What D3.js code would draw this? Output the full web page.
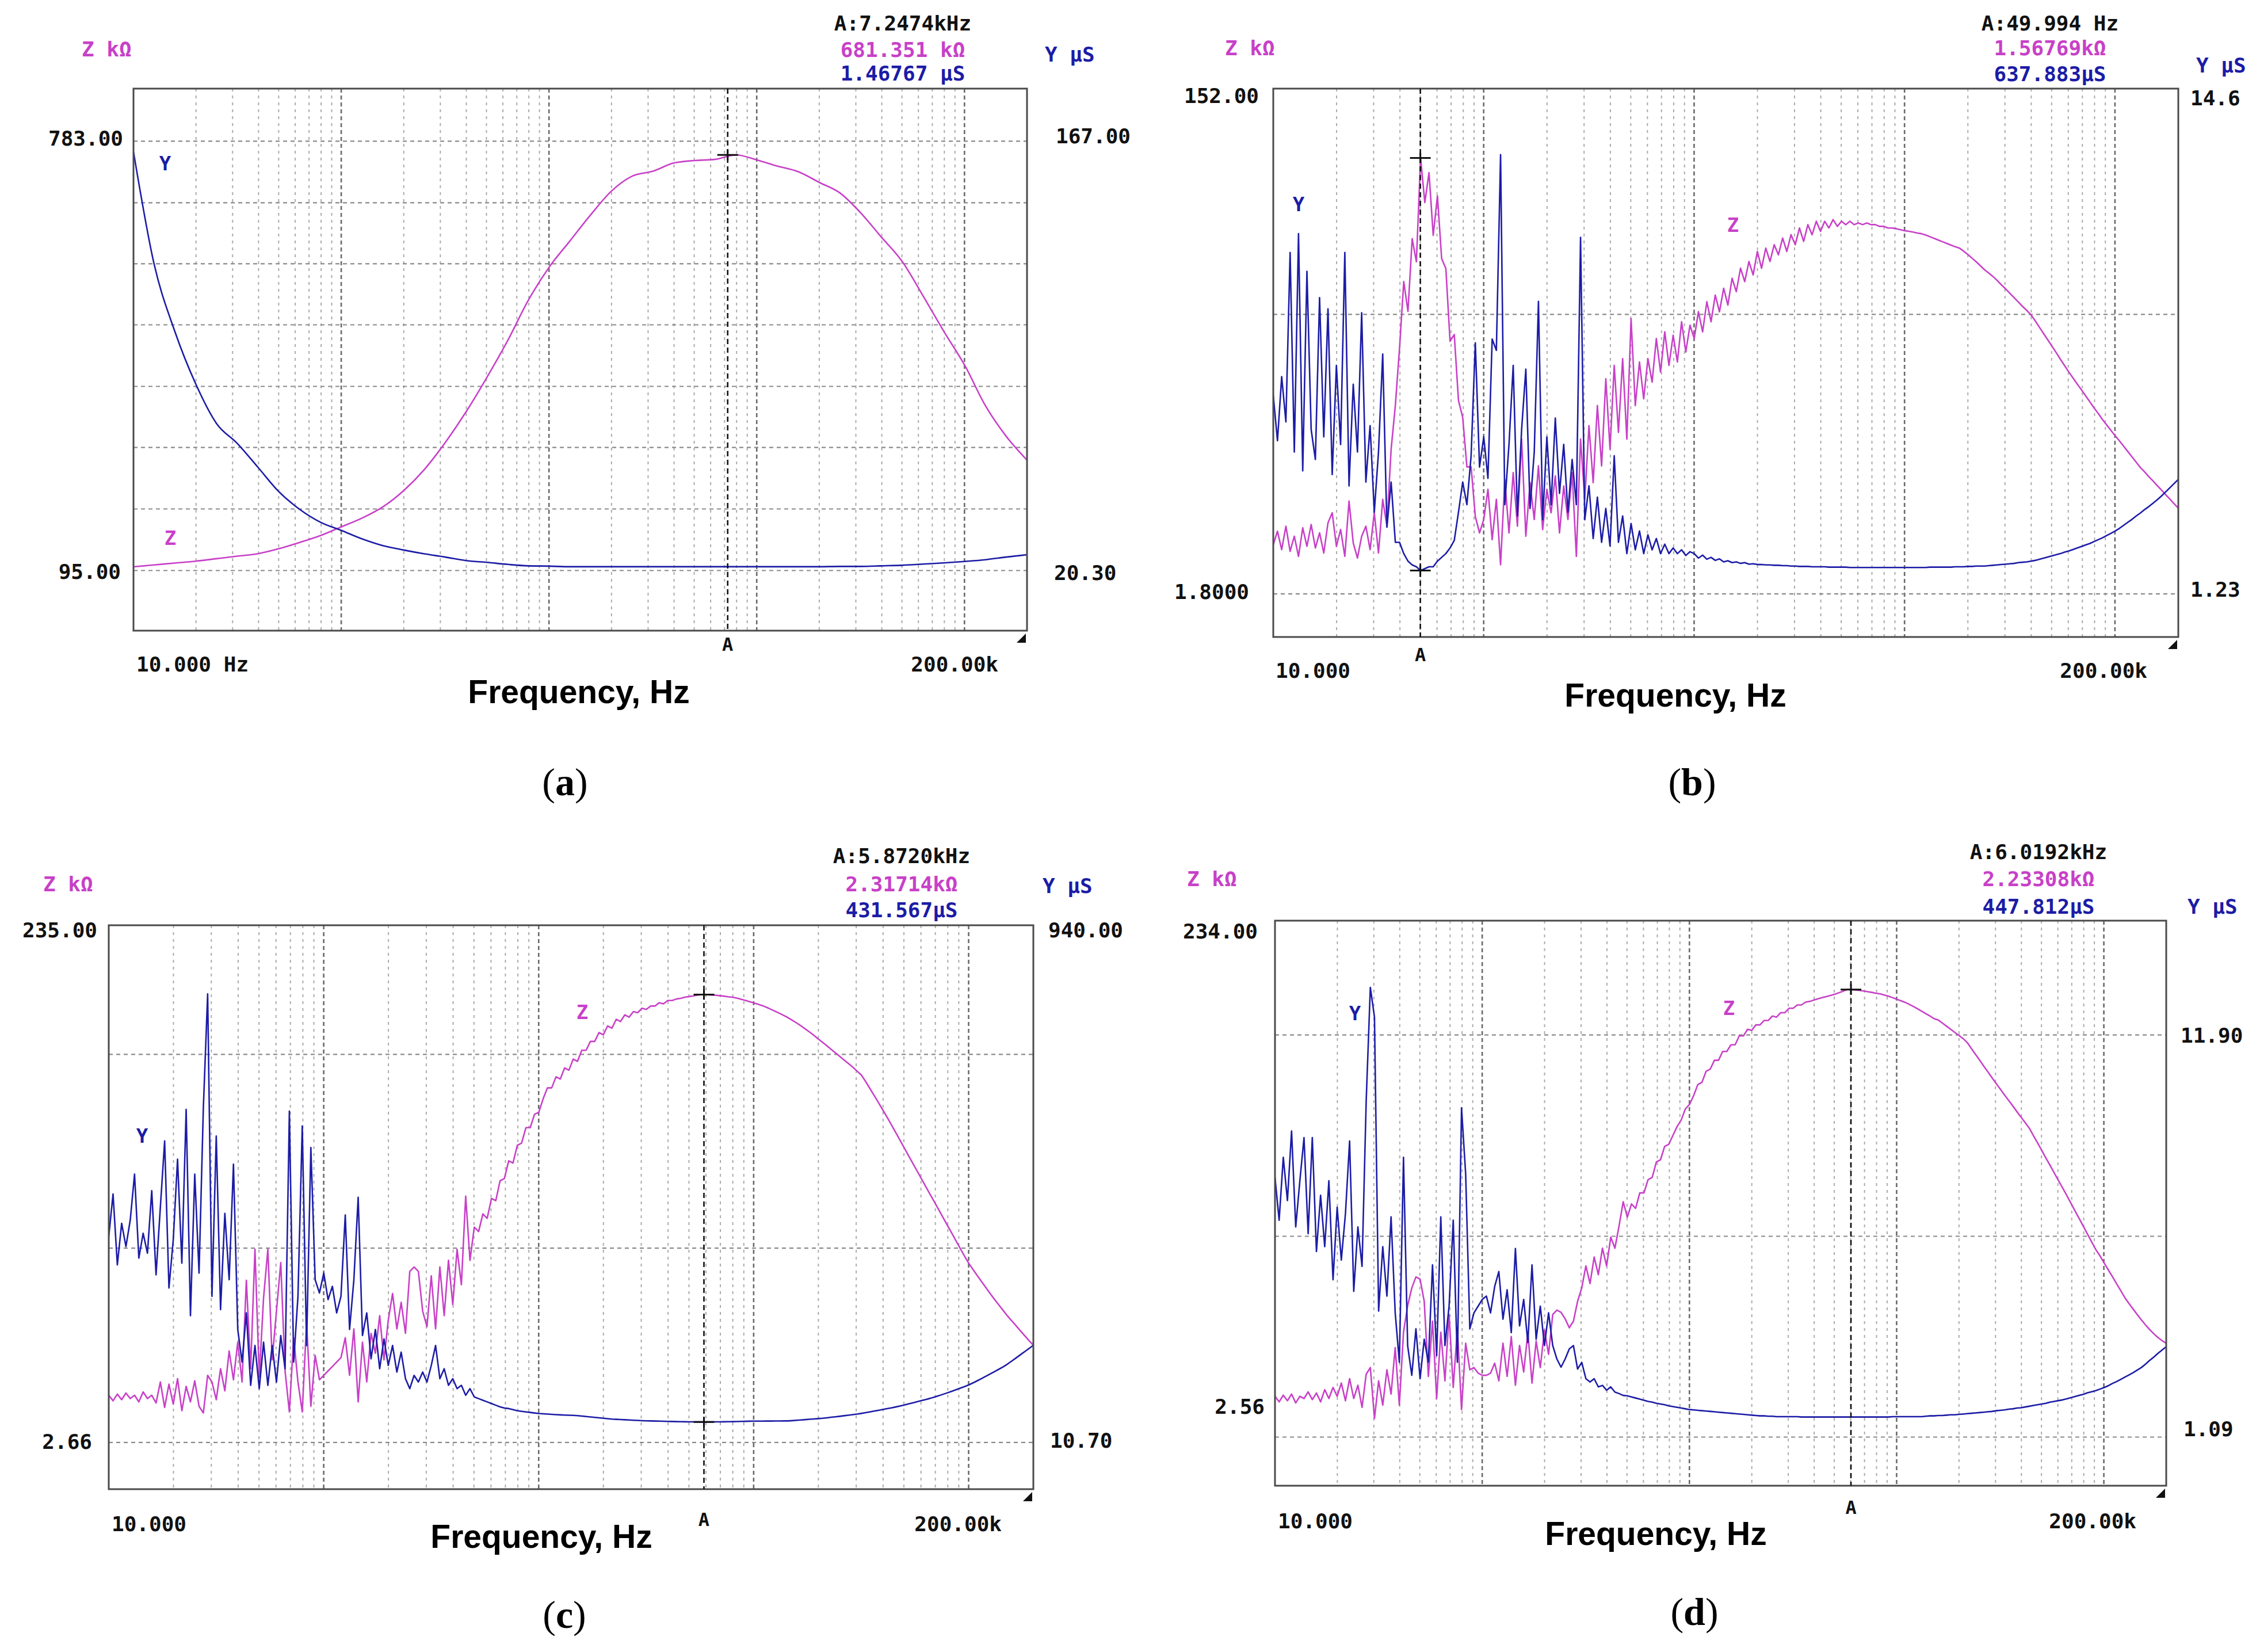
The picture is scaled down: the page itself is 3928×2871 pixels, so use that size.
<!DOCTYPE html>
<html>
<head>
<meta charset="utf-8">
<script src="https://cdn.jsdelivr.net/npm/d3@7"></script>
<style>
body { margin: 0; background: #fff; }
.mono { font-family: 'DejaVu Sans Mono', monospace; font-weight: bold; font-size: 36px; }
.title { font-family: 'Liberation Sans', Arial, sans-serif; font-weight: bold; font-size: 57px; }
.cap { font-family: 'Liberation Serif', 'Times New Roman', serif; font-size: 68px; }
</style>
</head>
<body>
<svg id="chart" width="3928" height="2871"></svg>
<script>
var svg = d3.select('#chart');

// analyzer sweep, log spaced, every series below is one sweep from fStart to fStop
var fStart = 10, fStop = 200000;

// (a) Z in kOhm, Y in uS
var zA = [101,104,107,110,114,118,122,130,140,151,165,179,197,223,257,300,349,404,463,528,
  581,623,665,703,727,735,748,752,754,761,753,743,734,717,700,668,629,590,535,478,
  424,359,310,272];
var yA = [163.4,124.8,101.8,84.0,70.5,63.7,55.5,47.2,41.2,36.8,34.0,31.1,28.8,27.3,26.0,24.9,23.7,23.1,22.4,21.9,
  21.8,21.6,21.6,21.6,21.6,21.6,21.6,21.6,21.6,21.6,21.6,21.6,21.6,21.6,21.7,21.7,21.9,22.1,22.5,22.9,
  23.4,24.0,24.9,25.7];

// (b)
var zB = [16.5,20.5,15.0,22.0,14.5,19.0,13.0,21.5,16.0,22.5,
  15.5,20.0,14.0,23.0,26.0,16.0,21.0,13.0,29.5,17.0,
  12.5,19.0,22.0,15.0,26.0,14.0,30.0,22.0,45.0,58.0,
  75.2,95.0,86.1,107.8,100.9,131.9,118.6,127.5,108.8,120.6,
  101.9,98.9,77.2,79.2,59.5,54.5,39.7,39.7,24.9,20.0,
  24.0,33.0,18.0,30.0,10.5,36.0,20.0,38.0,22.0,48.0,
  19.0,35.0,24.0,40.0,21.0,33.0,26.0,37.0,20.0,34.0,
  24.0,38.0,13.0,48.0,30.0,52.0,35.0,58.0,40.0,66.0,
  45.0,70.0,50.0,72.0,48.0,84.0,58.0,71.0,60.0,72.0,
  65.0,78.0,68.0,80.0,70.0,79.0,71.0,83.0,74.0,82.0,
  78,86,80,89,83,91,86,93,88,96,
  92,99,95,101,97,104,99,105,101,106,
  103,108,104,109,106,111,107,112,109,113,
  110,113,111,113.5,111.5,113,112,113,112,112.5,
  112,112.5,112,112,111.5,111.5,111,111,110.8,110.5,
  110.2,110.0,109.8,109.5,109.3,108.9,108.4,107.9,107.4,106.9,
  106.4,105.9,105.4,105.0,104.1,103.1,102.0,100.9,99.7,98.5,
  97.5,96.5,95.3,94.0,92.8,91.5,90.2,88.9,87.6,86.4,
  85.1,83.3,81.4,79.5,77.6,75.7,73.8,71.8,69.9,68.0,
  66.2,64.4,62.7,60.9,59.1,57.3,55.6,53.8,52.2,50.6,
  49.0,47.5,45.9,44.3,42.7,41.1,39.5,38.2,36.8,35.5,
  34.1,32.8,31.4,30.1,28.7,27.4];
var yB = [6.5,5.3,7.0,5.8,10.3,5.0,10.8,4.5,9.8,5.6,
  4.8,9.1,5.4,8.8,4.4,7.3,5.2,10.3,4.1,6.8,
  5.0,8.7,4.2,5.7,3.4,5.0,7.6,3.0,4.2,2.6,
  2.6,2.3,2.1,2.0,1.95,1.85,1.9,1.95,1.95,2.1,
  2.2,2.3,2.45,2.65,3.4,4.2,3.6,4.9,7.9,4.6,
  5.4,4.3,8.0,7.7,12.9,3.6,5.2,7.3,3.3,5.6,
  7.2,3.5,5.0,9.0,3.2,5.4,3.6,5.9,3.9,5.2,
  3.4,4.8,3.6,10.7,3.2,4.1,2.7,3.8,2.6,3.5,
  2.5,4.9,2.6,3.3,2.3,3.1,2.4,2.9,2.3,2.8,
  2.4,2.7,2.3,2.55,2.3,2.45,2.3,2.4,2.25,2.35,
  2.30,2.18,2.26,2.15,2.20,2.12,2.16,2.08,2.11,2.06,
  2.08,2.04,2.06,2.02,2.03,2.01,2.01,2.00,2.00,1.99,
  1.99,1.98,1.98,1.97,1.97,1.96,1.96,1.96,1.95,1.95,
  1.95,1.95,1.94,1.94,1.94,1.94,1.94,1.93,1.93,1.93,
  1.93,1.93,1.93,1.93,1.93,1.93,1.93,1.93,1.93,1.93,
  1.93,1.93,1.93,1.93,1.93,1.93,1.94,1.94,1.94,1.94,
  1.94,1.94,1.95,1.95,1.95,1.96,1.96,1.97,1.97,1.97,
  1.98,1.99,2.00,2.01,2.02,2.03,2.04,2.06,2.07,2.08,
  2.10,2.12,2.15,2.18,2.21,2.24,2.27,2.30,2.34,2.37,
  2.41,2.45,2.49,2.53,2.57,2.62,2.67,2.72,2.78,2.84,
  2.90,2.97,3.05,3.13,3.21,3.30,3.38,3.47,3.55,3.64,
  3.73,3.83,3.94,4.05,4.16,4.27];

// (c)
var zC = [24.0,21.5,24.5,22.0,25.0,22.5,24.0,21.0,25.5,22.5,
  24.0,20.5,30.0,18.5,29.0,20.0,31.5,17.0,28.0,21.0,
  30.5,19.0,16.0,33.0,30.0,22.0,36.0,26.0,44.0,31.0,
  48,30,76,36,90,32,68,90,40,62,
  84,35,16.5,50,30,16.5,57,19,42,31,
  33,35,37,39,41,50,33,54,21,48,
  30,52,43,60,40,58,70,54,66,52,
  80,82,80,62,55,78,54,82,60,85,
  65,90,74,114,85,100,98,106,104,113,
  112,121,122,130,129,137,138,145,145,151,
  152,158,163,163,168,167,172,171,176,175,
  180,180,184,184,188,187,191,190,194,193,
  196,195,197.5,197,199,198.5,200,200,201.5,201,
  202.5,202.5,203.2,203.5,204,204.3,204.6,205,205.2,205.2,
  205,204.9,204.7,204.5,204.2,204,203.6,203.1,202.6,202,
  201.4,200.8,200.2,199.4,198.5,197.6,196.7,195.7,194.7,193.5,
  192.3,191.0,189.6,188.2,186.7,185.1,183.6,182.0,180.4,178.8,
  177.2,175.6,174.0,172.4,170.6,168.8,165.9,162.7,159.5,156.3,
  153.0,149.7,146.3,142.8,139.3,135.8,132.3,128.8,125.3,121.8,
  118.3,114.8,111.4,107.9,104.4,100.9,97.4,93.9,90.4,86.9,
  83.6,80.8,78.0,75.3,72.6,69.9,67.3,64.8,62.3,59.8,
  57.6,55.4,53.1,50.9,48.7,46.6];
var yC = [383,460,332,407,365,413,496,344,389,353,
  466,314,436,556,290,377,523,335,613,240,
  496,317,616,822,275,565,251,425,305,514,
  215,156,245,114,186,108,192,114,186,120,
  204,144,610,156,275,583,186,544,305,281,
  317,269,293,245,275,422,215,305,454,204,
  245,162,215,144,198,150,186,138,174,126,
  108,132,120,138,120,150,186,126,144,114,
  126,108,114,96,108,93,90,87,84,81,
  78,75,73,72,70,68,67,66,65,64,
  63,62.5,62,61.5,61,60.6,60.2,59.9,59.6,59.2,
  58.4,57.6,56.8,56.0,55.2,54.4,53.6,52.9,52.5,52.1,
  51.7,51.3,50.9,50.5,50.1,49.8,49.6,49.4,49.2,49.0,
  48.8,48.6,48.4,48.2,48.1,48.0,47.9,47.8,47.8,47.8,
  47.8,47.9,48.0,48.1,48.2,48.3,48.5,48.7,48.9,49.1,
  49.3,49.3,49.3,49.4,49.4,49.5,49.5,49.6,49.7,50.2,
  50.8,51.4,52.0,52.6,53.2,53.8,54.4,55.3,56.2,57.1,
  58.0,59.0,60.0,61.0,62.0,63.2,64.6,66.0,67.4,68.8,
  70.3,71.8,73.3,74.9,76.6,78.4,80.4,82.4,84.4,86.4,
  88.4,90.5,92.8,95.2,97.8,100.4,103.2,106.0,108.9,111.8,
  114.8,118.5,122.4,126.4,130.5,134.7,138.9,143.2,147.4,152.5,
  158.0,163.6,169.3,175.0,180.7,186.4];

// (d)
var zD = [21,18.5,21.5,19,22,18,21,20,23,19.5,
  22.5,18.5,24,20,25,21,27,19,29,20,
  26,16,31,34,11,28,17,33,22,43,
  17,50,62,70,75,74,64,30,55,20,
  50,28,58,25,52,15,45,33,34,31.5,
  30.5,30.5,31.5,36,28,45,30,48,26,44,
  32,50,27,46,34,51,40,58,60,59,
  56,52,55,64,70,80,72,84,76,88,
  80,93,88,98,109,102,108,106,113,113,
  119,120,127,128,134,135,139,143,146,151,
  153,157,162,163,168,169,173,173,177,177,
  180,180,184,184,187,186.5,189,189,191,191,
  193,192.5,194.5,194.5,196.5,196.5,198,198,199.3,199.6,
  200.2,200.8,201.3,201.8,202.3,202.8,203.5,204.2,205,205,
  204.8,204.6,204.3,204,203.7,203.3,203,202.5,202,201.3,
  200.6,199.9,199.2,198.3,197.3,196.3,195.2,194.1,193,191.8,
  191.2,189.8,188.4,187,185.6,184.2,182.8,181,178.3,175.6,
  173,170.3,167.7,165,162.4,159.9,157.3,154.8,152.3,149.7,
  147.2,144.7,142.2,138.8,135.5,132.1,128.7,125.4,122,118.6,
  115.3,111.9,108.4,104.9,101.4,97.9,94.4,90.9,87.4,84.6,
  81.4,78.3,75.2,72,68.9,65.7,63,60.5,58,55.6,
  53.3,51.2,49.3,47.6,46.2,45];
var yD = [8.07,6.92,8.61,7.45,9.32,6.74,7.98,9.14,6.56,9.14,
  6.08,7.59,6.21,7.98,5.32,7.27,5.85,7.10,9.05,5.01,
  6.74,5.68,10.12,13.18,12.38,4.48,6.21,4.88,7.01,4.43,
  3.10,8.61,3.55,2.75,4.0,2.66,3.72,3.10,5.72,3.28,
  7.01,3.55,4.61,6.92,3.10,9.94,8.16,4.0,4.43,4.61,
  4.79,4.88,4.43,5.14,5.54,4.26,5.05,3.90,6.16,4.08,
  4.79,3.63,5.72,3.72,4.61,3.55,4.43,3.55,3.19,2.97,
  3.19,3.46,3.55,2.92,3.10,2.66,2.57,2.66,2.44,2.48,
  2.35,2.44,2.30,2.26,2.21,2.20,2.17,2.14,2.11,2.08,
  2.05,2.03,2.00,1.98,1.96,1.93,1.91,1.89,1.87,1.85,
  1.83,1.82,1.81,1.80,1.79,1.78,1.77,1.76,1.75,1.74,
  1.73,1.72,1.71,1.70,1.69,1.68,1.67,1.66,1.66,1.65,
  1.65,1.64,1.64,1.64,1.64,1.64,1.64,1.63,1.63,1.63,
  1.63,1.63,1.63,1.63,1.63,1.63,1.63,1.63,1.63,1.63,
  1.63,1.63,1.63,1.63,1.63,1.63,1.63,1.63,1.63,1.64,
  1.64,1.64,1.64,1.64,1.64,1.64,1.64,1.65,1.66,1.66,
  1.67,1.67,1.68,1.69,1.69,1.70,1.71,1.72,1.73,1.74,
  1.75,1.76,1.77,1.78,1.80,1.81,1.82,1.84,1.85,1.87,
  1.88,1.90,1.92,1.94,1.96,1.98,2.00,2.03,2.05,2.07,
  2.09,2.12,2.15,2.18,2.21,2.24,2.28,2.31,2.34,2.38,
  2.42,2.47,2.53,2.58,2.64,2.70,2.76,2.82,2.89,2.96,
  3.05,3.15,3.24,3.34,3.43,3.52];

// axis end labels and marker readouts, as the analyzer printed them
var zDomains = [[95, 783], [1.8, 152], [2.66, 235], [2.56, 234]];
var yDomains = [[20.3, 167], [1.23, 14.6], [10.7, 940], [1.09, 11.9]];
var zMaxText = ['783.00', '152.00', '235.00', '234.00'];
var zMinText = ['95.00', '1.8000', '2.66', '2.56'];
var yMaxText = ['167.00', '14.6', '940.00', '11.90'];
var yMinText = ['20.30', '1.23', '10.70', '1.09'];
var markerFreq = [7247.4, 49.994, 5872.0, 6019.2];
var markerText = [
  ['A:7.2474kHz', '681.351 k\u03a9', '1.46767 \u00b5S'],
  ['A:49.994 Hz', '1.56769k\u03a9', '637.883\u00b5S'],
  ['A:5.8720kHz', '2.31714k\u03a9', '431.567\u00b5S'],
  ['A:6.0192kHz', '2.23308k\u03a9', '447.812\u00b5S']
];
var fMinText = ['10.000 Hz', '10.000', '10.000', '10.000'];
var fMaxText = '200.00k';
var captions = ['a', 'b', 'c', 'd'];

var zColor = '#c840c8', yColor = '#1c1ca6';

// page layout of each screenshot panel (pixels)
var layout = [
  { frame: [232, 154, 1785, 1096], zRange: [991.5, 245.4], yRange: [991.5, 245.4],
    hGrid: [245.4, 352.3, 458.4, 564.5, 671.5, 777.6, 884.5, 991.5], smooth: true, ticks: ['z'],
    zUnit: [142, 85], zMax: [214, 240], zMin: [210, 993], yMax: [1835, 236], yMin: [1832, 995], yUnit: [1816, 94],
    head: [1569, 40, 86, 127], Y: [287, 284], Z: [296, 935], A: 1119, f0: [237, 1154], f1: [1735, 1154],
    title: [1006, 1222], cap: [982, 1382] },
  { frame: [2213, 154, 3786, 1107], zRange: [1032.1, 157.5], yRange: [1032.1, 157.5],
    hGrid: [546.3, 1032.1], smooth: false, ticks: ['z', 'y'],
    zUnit: [2129, 83], zMax: [2188, 166], zMin: [2171, 1028], yMax: [3807, 170], yMin: [3807, 1024], yUnit: [3817, 113],
    head: [3563, 40, 83, 128], Y: [2257, 355], Z: [3012, 391], A: 1137, f0: [2217, 1165], f1: [3732, 1165],
    title: [2912, 1228], cap: [2941, 1382] },
  { frame: [189, 1608, 1796, 2588], zRange: [2506.8, 1613.9], yRange: [2506.8, 1613.9],
    hGrid: [1832.4, 2169.2, 2506.8], smooth: false, ticks: ['z', 'y'],
    zUnit: [75, 1536], zMax: [169, 1616], zMin: [160, 2505], yMax: [1822, 1616], yMin: [1825, 2503], yUnit: [1812, 1539],
    head: [1567, 1487, 1536, 1581], Y: [247, 1974], Z: [1012, 1759], A: 2640, f0: [194, 2648], f1: [1741, 2648],
    title: [941, 2690], cap: [981, 2829] },
  { frame: [2216, 1600, 3765, 2582], zRange: [2497.5, 1608.2], yRange: [2497.5, 1798.7],
    hGrid: [1798.7, 2148.5, 2497.5], smooth: false, ticks: ['z'],
    zUnit: [2063, 1527], zMax: [2186, 1618], zMin: [2198, 2444], yMax: [3790, 1799], yMin: [3795, 2483], yUnit: [3802, 1575],
    head: [3543, 1480, 1527, 1575], Y: [2355, 1761], Z: [3005, 1752], A: 2619, f0: [2221, 2643], f1: [3713, 2643],
    title: [2878, 2685], cap: [2945, 2824] }
];

var series = [[zA, yA], [zB, yB], [zC, yC], [zD, yD]];

// frequency of every sample of a sweep
function sweep(values) {
  var n = values.length;
  return values.map(function(v, i) {
    return { f: fStart * Math.pow(fStop / fStart, i / (n - 1)), v: v };
  });
}

function label(g, txt, x, y, anchor, color, cls, size) {
  var t = g.append('text').attr('class', cls || 'mono')
    .attr('x', x).attr('y', y).attr('dy', '0.36em')
    .attr('text-anchor', anchor || 'start')
    .attr('fill', color || '#111')
    .text(txt);
  if (size) t.style('font-size', size + 'px');
  return t;
}

layout.forEach(function(p, k) {
  var g = svg.append('g');
  var fr = p.frame;
  var x = d3.scaleLog().domain([fStart, fStop]).range([fr[0], fr[2]]);
  var zs = d3.scaleLinear().domain(zDomains[k]).range(p.zRange);
  var ys = d3.scaleLinear().domain(yDomains[k]).range(p.yRange);

  g.append('clipPath').attr('id', 'clip' + k).append('rect')
    .attr('x', fr[0]).attr('y', fr[1]).attr('width', fr[2] - fr[0]).attr('height', fr[3] - fr[1]);

  // log grid
  var vt = x.ticks().filter(function(f) { return f > fStart * 1.01 && f < fStop * 0.99; });
  var decade = function(f) { return Math.abs(Math.log10(f) % 1) < 1e-6; };
  g.selectAll('line.vg').data(vt).enter().append('line')
    .attr('x1', function(f) { return x(f); }).attr('x2', function(f) { return x(f); })
    .attr('y1', fr[1]).attr('y2', fr[3])
    .attr('stroke', function(f) { return decade(f) ? '#6a6a6a' : '#ababab'; })
    .attr('stroke-width', function(f) { return decade(f) ? 2.6 : 2; })
    .attr('stroke-dasharray', function(f) { return decade(f) ? '7,5' : '5,7'; });
  g.selectAll('line.hg').data(p.hGrid).enter().append('line')
    .attr('x1', fr[0]).attr('x2', fr[2]).attr('y1', function(d) { return d; }).attr('y2', function(d) { return d; })
    .attr('stroke', '#8a8a8a').attr('stroke-width', 2.2).attr('stroke-dasharray', '7,6');

  // curves
  var zLine = d3.line().x(function(d) { return x(d.f); }).y(function(d) { return zs(d.v); });
  var yLine = d3.line().x(function(d) { return x(d.f); }).y(function(d) { return ys(d.v); });
  if (p.smooth) { zLine.curve(d3.curveMonotoneX); yLine.curve(d3.curveMonotoneX); }
  var zData = sweep(series[k][0]), yData = sweep(series[k][1]);
  g.append('path').datum(zData).attr('d', zLine).attr('clip-path', 'url(#clip' + k + ')')
    .attr('fill', 'none').attr('stroke', zColor).attr('stroke-width', 2.6).attr('stroke-linejoin', 'round');
  g.append('path').datum(yData).attr('d', yLine).attr('clip-path', 'url(#clip' + k + ')')
    .attr('fill', 'none').attr('stroke', yColor).attr('stroke-width', 2.6).attr('stroke-linejoin', 'round');

  // frame
  g.append('rect').attr('x', fr[0]).attr('y', fr[1]).attr('width', fr[2] - fr[0]).attr('height', fr[3] - fr[1])
    .attr('fill', 'none').attr('stroke', '#4a4a4a').attr('stroke-width', 3);
  g.append('path')
    .attr('d', 'M' + (fr[2] - 2) + ',' + (fr[3] + 5) + 'L' + (fr[2] - 2) + ',' + (fr[3] + 21) + 'L' + (fr[2] - 18) + ',' + (fr[3] + 21) + 'Z')
    .attr('fill', '#111');

  // marker A
  var mx = x(markerFreq[k]);
  g.append('line').attr('x1', mx).attr('x2', mx).attr('y1', fr[1]).attr('y2', fr[3])
    .attr('stroke', '#111').attr('stroke-width', 2.6).attr('stroke-dasharray', '9,6');
  var mi = Math.round(Math.log(markerFreq[k] / fStart) / Math.log(fStop / fStart) * (zData.length - 1));
  p.ticks.forEach(function(which) {
    var ty = which === 'z' ? zs(zData[mi].v) : ys(yData[Math.round(mi * (yData.length - 1) / (zData.length - 1))].v);
    g.append('line').attr('x1', mx - 18).attr('x2', mx + 18).attr('y1', ty).attr('y2', ty)
      .attr('stroke', '#111').attr('stroke-width', 3);
    g.append('line').attr('x1', mx).attr('x2', mx).attr('y1', ty - 9).attr('y2', ty + 9)
      .attr('stroke', '#111').attr('stroke-width', 3);
  });
  label(g, 'A', mx, p.A, 'middle', '#111', 'mono', 32);

  // texts
  label(g, 'Z k\u03a9', p.zUnit[0], p.zUnit[1], 'start', zColor);
  label(g, 'Y \u00b5S', p.yUnit[0], p.yUnit[1], 'start', yColor);
  label(g, zMaxText[k], p.zMax[0], p.zMax[1], 'end');
  label(g, zMinText[k], p.zMin[0], p.zMin[1], 'end');
  label(g, yMaxText[k], p.yMax[0], p.yMax[1], 'start');
  label(g, yMinText[k], p.yMin[0], p.yMin[1], 'start');
  label(g, markerText[k][0], p.head[0], p.head[1], 'middle', '#111');
  label(g, markerText[k][1], p.head[0], p.head[2], 'middle', zColor);
  label(g, markerText[k][2], p.head[0], p.head[3], 'middle', yColor);
  label(g, 'Y', p.Y[0], p.Y[1], 'middle', yColor, 'mono', 34);
  label(g, 'Z', p.Z[0], p.Z[1], 'middle', zColor, 'mono', 34);
  label(g, fMinText[k], p.f0[0], p.f0[1], 'start');
  label(g, fMaxText, p.f1[0], p.f1[1], 'end');
  g.append('text').attr('class', 'title').attr('x', p.title[0]).attr('y', p.title[1])
    .attr('text-anchor', 'middle').attr('fill', '#000').text('Frequency, Hz');
  var c = g.append('text').attr('class', 'cap').attr('x', p.cap[0]).attr('y', p.cap[1])
    .attr('text-anchor', 'middle').attr('fill', '#000');
  c.append('tspan').text('(');
  c.append('tspan').attr('font-weight', 'bold').text(captions[k]);
  c.append('tspan').text(')');
});
</script>
</body>
</html>
